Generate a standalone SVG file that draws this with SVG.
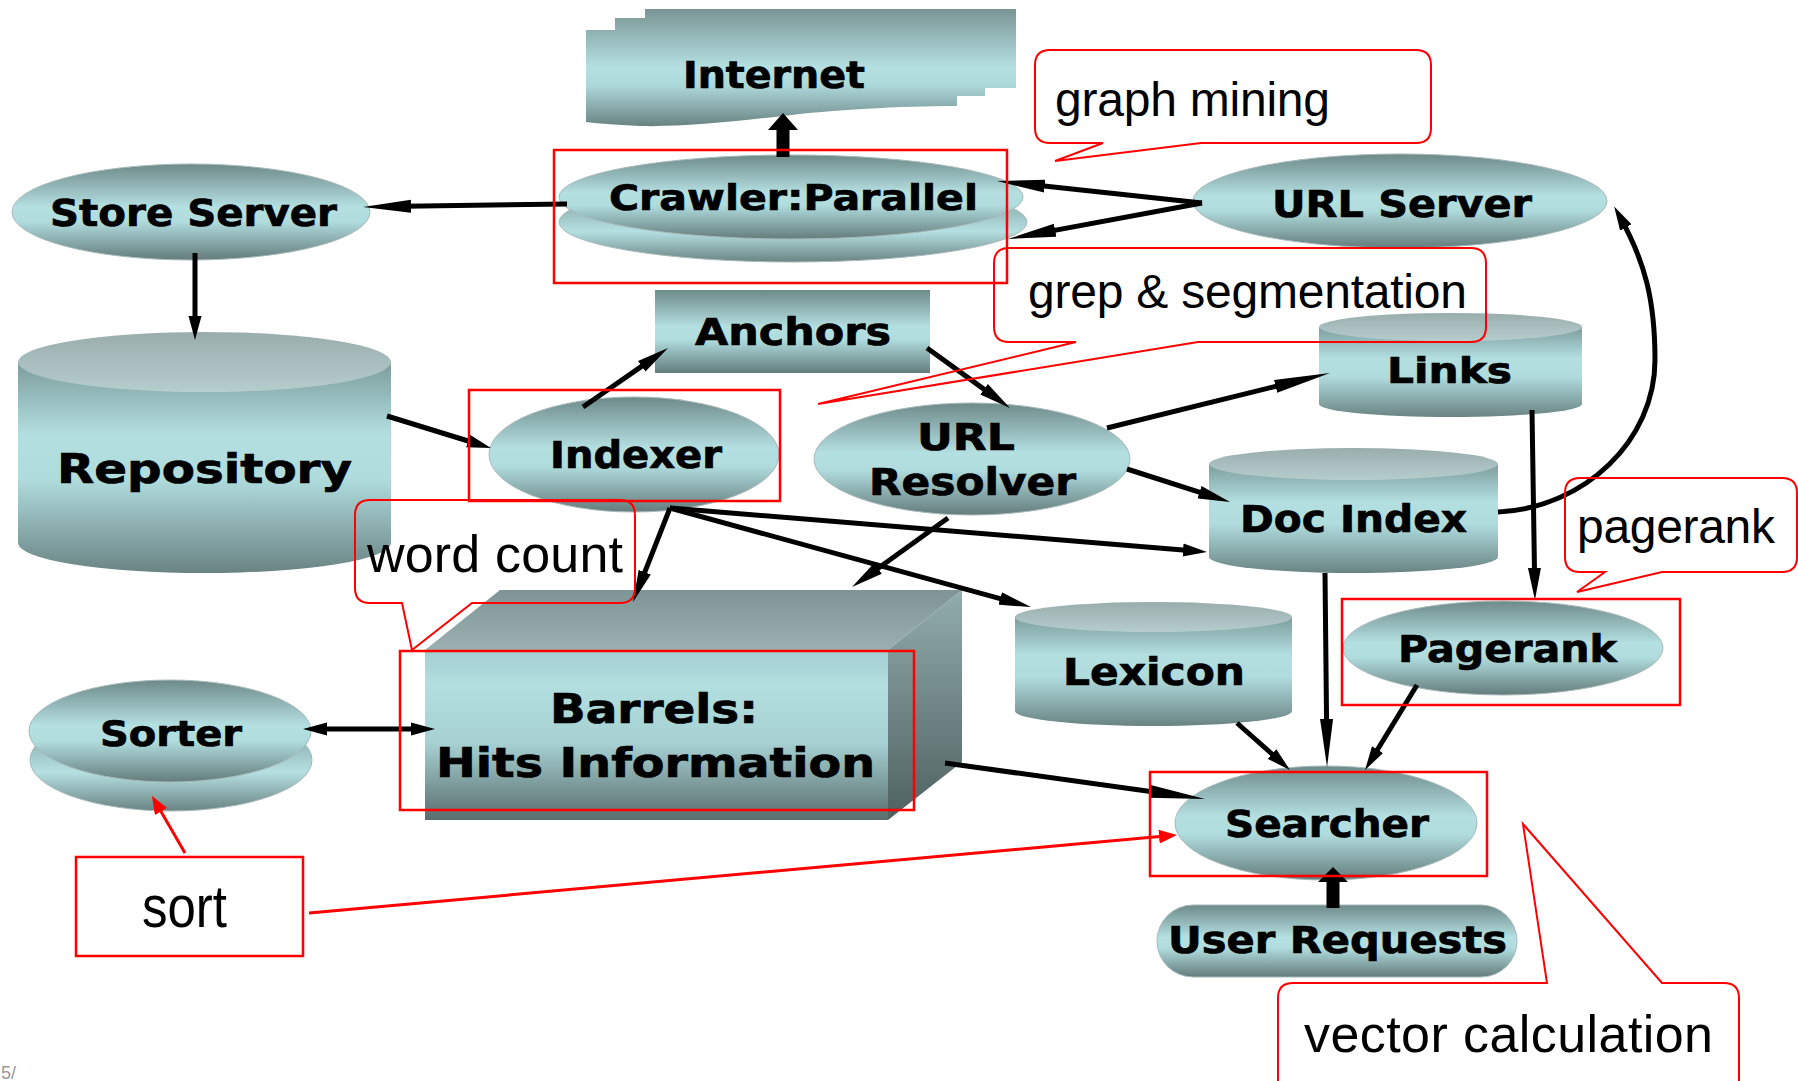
<svg xmlns="http://www.w3.org/2000/svg" width="1798" height="1081" viewBox="0 0 1798 1081">
<style>
.lbl{font-family:"DejaVu Sans","Liberation Sans",sans-serif;font-weight:bold;fill:#000;stroke:#000;stroke-width:0.7}
.ann{font-family:"Liberation Sans",Arial,sans-serif;fill:#000}
.rbox{fill:none;stroke:#ff0000;stroke-width:2.5}
.call{fill:none;stroke:#ff0000;stroke-width:2;stroke-linejoin:miter}
.edge{fill:none;stroke:#000;stroke-width:5}
.redge{fill:none;stroke:#ff0000;stroke-width:3}
.nd{stroke:#a7b9b9;stroke-width:1}
</style>
<defs>
<linearGradient id="gE" x1="0" y1="0" x2="0" y2="1">
<stop offset="0" stop-color="#6e8a8a"/>
<stop offset="0.45" stop-color="#b5e0e2"/>
<stop offset="0.6" stop-color="#b0dcde"/>
<stop offset="1" stop-color="#647c7c"/>
</linearGradient>
<linearGradient id="gI" gradientUnits="userSpaceOnUse" x1="0" y1="9" x2="0" y2="126">
<stop offset="0" stop-color="#7a9494"/>
<stop offset="0.5" stop-color="#b5e0e2"/>
<stop offset="0.65" stop-color="#aed9db"/>
<stop offset="1" stop-color="#6a8383"/>
</linearGradient>
<linearGradient id="gE2" x1="0" y1="0" x2="0" y2="1">
<stop offset="0" stop-color="#6e8a8a"/>
<stop offset="0.62" stop-color="#b5e0e2"/>
<stop offset="1" stop-color="#6a8383"/>
</linearGradient>
<linearGradient id="gC" x1="0" y1="0" x2="0" y2="1">
<stop offset="0" stop-color="#7d9c9c"/>
<stop offset="0.35" stop-color="#b3dfe1"/>
<stop offset="0.55" stop-color="#b0dcde"/>
<stop offset="1" stop-color="#6a8383"/>
</linearGradient>
<linearGradient id="gT" x1="0" y1="0" x2="0" y2="1">
<stop offset="0" stop-color="#9aadad"/>
<stop offset="1" stop-color="#b6cdcd"/>
</linearGradient>
<linearGradient id="gF" x1="0" y1="0" x2="0" y2="1">
<stop offset="0" stop-color="#a3cdd0"/>
<stop offset="0.2" stop-color="#b3dfe1"/>
<stop offset="0.55" stop-color="#a6d0d2"/>
<stop offset="1" stop-color="#5a6d6d"/>
</linearGradient>
<linearGradient id="gTop" x1="0" y1="0" x2="0" y2="1">
<stop offset="0" stop-color="#7f9494"/>
<stop offset="1" stop-color="#9bb0b0"/>
</linearGradient>
<linearGradient id="gSide" x1="0" y1="0" x2="0" y2="1">
<stop offset="0" stop-color="#92acac"/>
<stop offset="1" stop-color="#4f6161"/>
</linearGradient>
<marker id="m24" markerUnits="userSpaceOnUse" markerWidth="24" markerHeight="14" viewBox="0 0 24 14" refX="12" refY="7" orient="auto-start-reverse"><path d="M0,0.5 L24,7 L0,13.5 Z" fill="#000"/></marker>
<marker id="m32" markerUnits="userSpaceOnUse" markerWidth="32" markerHeight="14" viewBox="0 0 32 14" refX="16" refY="7" orient="auto"><path d="M0,0.5 L32,7 L0,13.5 Z" fill="#000"/></marker>
<marker id="m48" markerUnits="userSpaceOnUse" markerWidth="48" markerHeight="14" viewBox="0 0 48 14" refX="24" refY="7" orient="auto"><path d="M0,0.5 L48,7 L0,13.5 Z" fill="#000"/></marker>
<marker id="m56" markerUnits="userSpaceOnUse" markerWidth="56" markerHeight="14" viewBox="0 0 56 14" refX="28" refY="7" orient="auto"><path d="M0,0.5 L56,7 L0,13.5 Z" fill="#000"/></marker>
<marker id="mr" markerUnits="userSpaceOnUse" markerWidth="18" markerHeight="14" viewBox="0 0 18 14" refX="9" refY="7" orient="auto"><path d="M0,0 L18,7 L0,14 Z" fill="#ff0000"/></marker>
</defs>
<rect width="1798" height="1081" fill="#fff"/>

<g id="internet">
<rect x="645" y="9" width="371" height="79" fill="url(#gI)"/>
<rect x="615" y="18" width="370" height="78" fill="url(#gI)"/>
<path d="M586,30 H957 V106 C900,106 830,110 783,116 C730,122 680,127 640,126 C615,125 595,123 586,122 Z" fill="url(#gI)"/>
<text class="lbl" x="683" y="88" font-size="37" textLength="182" lengthAdjust="spacingAndGlyphs">Internet</text>
</g>

<g id="crawler">
<ellipse cx="793" cy="222" rx="234" ry="40" fill="url(#gE2)" class="nd"/>
<ellipse cx="791" cy="197" rx="232" ry="42" fill="url(#gE)" class="nd"/>
<text class="lbl" x="609" y="210" font-size="36" textLength="369" lengthAdjust="spacingAndGlyphs">Crawler:Parallel</text>
</g>

<g id="store-server">
<ellipse cx="191" cy="212" rx="179" ry="48" fill="url(#gE)" class="nd"/>
<text class="lbl" x="50" y="226" font-size="38" textLength="287" lengthAdjust="spacingAndGlyphs">Store Server</text>
</g>

<g id="url-server">
<ellipse cx="1400" cy="201" rx="207" ry="47" fill="url(#gE)" class="nd"/>
<text class="lbl" x="1272" y="217" font-size="37" textLength="260" lengthAdjust="spacingAndGlyphs">URL Server</text>
</g>

<g id="anchors">
<rect x="655" y="290" width="275" height="83" fill="url(#gE)"/>
<text class="lbl" x="695" y="345" font-size="37" textLength="196" lengthAdjust="spacingAndGlyphs">Anchors</text>
</g>

<g id="repository">
<path d="M18,362 V543 A186.5,30 0 0 0 391,543 V362 Z" fill="url(#gC)"/>
<ellipse cx="204.5" cy="362" rx="186.5" ry="30" fill="url(#gT)"/>
<text class="lbl" x="57" y="483" font-size="41" textLength="295" lengthAdjust="spacingAndGlyphs">Repository</text>
</g>

<g id="indexer">
<ellipse cx="634" cy="454.5" rx="145" ry="57.5" fill="url(#gE)" class="nd"/>
<text class="lbl" x="550" y="468" font-size="37" textLength="172" lengthAdjust="spacingAndGlyphs">Indexer</text>
</g>

<g id="url-resolver">
<ellipse cx="972" cy="459" rx="158" ry="56" fill="url(#gE)" class="nd"/>
<text class="lbl" x="917" y="450" font-size="37" textLength="98" lengthAdjust="spacingAndGlyphs">URL</text>
<text class="lbl" x="869" y="495" font-size="37" textLength="207" lengthAdjust="spacingAndGlyphs">Resolver</text>
</g>

<g id="links">
<path d="M1319,327 V404 A131.5,13 0 0 0 1582,404 V327 Z" fill="url(#gC)"/>
<ellipse cx="1450.5" cy="327" rx="131.5" ry="14" fill="url(#gT)"/>
<text class="lbl" x="1387" y="383" font-size="36" textLength="125" lengthAdjust="spacingAndGlyphs">Links</text>
</g>

<g id="doc-index">
<path d="M1209,464 V557 A144.5,16 0 0 0 1498,557 V464 Z" fill="url(#gC)"/>
<ellipse cx="1353.5" cy="464" rx="144.5" ry="16" fill="url(#gT)"/>
<text class="lbl" x="1240" y="532" font-size="37" textLength="227" lengthAdjust="spacingAndGlyphs">Doc Index</text>
</g>

<g id="lexicon">
<path d="M1015,617 V711 A138.5,15 0 0 0 1292,711 V617 Z" fill="url(#gC)"/>
<ellipse cx="1153.5" cy="617" rx="138.5" ry="15" fill="url(#gT)"/>
<text class="lbl" x="1063" y="685" font-size="37" textLength="182" lengthAdjust="spacingAndGlyphs">Lexicon</text>
</g>

<g id="pagerank">
<ellipse cx="1503" cy="648" rx="160" ry="47" fill="url(#gE)" class="nd"/>
<text class="lbl" x="1398" y="662" font-size="37" textLength="219" lengthAdjust="spacingAndGlyphs">Pagerank</text>
</g>

<g id="barrels">
<polygon points="425,650 500,590 962,590 888,650" fill="url(#gTop)"/>
<polygon points="888,650 962,590 962,762 888,820" fill="url(#gSide)"/>
<rect x="425" y="650" width="463" height="170" fill="url(#gF)"/>
<text class="lbl" x="550" y="723" font-size="41" textLength="208" lengthAdjust="spacingAndGlyphs">Barrels:</text>
<text class="lbl" x="436" y="777" font-size="41" textLength="439" lengthAdjust="spacingAndGlyphs">Hits Information</text>
</g>

<g id="sorter">
<ellipse cx="171" cy="760" rx="141" ry="51" fill="url(#gE2)" class="nd"/>
<ellipse cx="170" cy="731" rx="141" ry="51" fill="url(#gE)" class="nd"/>
<text class="lbl" x="100" y="746" font-size="36" textLength="142" lengthAdjust="spacingAndGlyphs">Sorter</text>
</g>

<g id="searcher">
<ellipse cx="1326" cy="823" rx="151" ry="57" fill="url(#gE)" class="nd"/>
<text class="lbl" x="1225" y="837" font-size="37" textLength="204" lengthAdjust="spacingAndGlyphs">Searcher</text>
</g>

<g id="user-requests">
<rect x="1157" y="905" width="360" height="72" rx="36" fill="url(#gE)" class="nd"/>
<text class="lbl" x="1168" y="953" font-size="37" textLength="339" lengthAdjust="spacingAndGlyphs">User Requests</text>
</g>

<g id="connectors">
<polygon points="783,113 798,130 789.5,130 789.5,157 776.5,157 776.5,130 768,130" fill="#000"/>
<line class="edge" x1="567" y1="204" x2="387" y2="206.6" marker-end="url(#m48)"/>
<line class="edge" x1="195" y1="253" x2="195" y2="328" marker-end="url(#m24)"/>
<line class="edge" x1="387" y1="416" x2="479.5" y2="444.5" marker-end="url(#m24)"/>
<line class="edge" x1="583" y1="407" x2="654.9" y2="357.1" marker-end="url(#m32)"/>
<line class="edge" x1="1202" y1="203" x2="1020.9" y2="183.6" marker-end="url(#m48)"/>
<line class="edge" x1="1202" y1="203" x2="1031.6" y2="234.6" marker-end="url(#m48)"/>
<line class="edge" x1="927" y1="348" x2="997" y2="398.6" marker-end="url(#m32)"/>
<line class="edge" x1="1107" y1="428" x2="1302.8" y2="379.7" marker-end="url(#m56)"/>
<line class="edge" x1="1127" y1="469" x2="1214.8" y2="497.1" marker-end="url(#m32)"/>
<line class="edge" x1="670" y1="508" x2="638.9" y2="587.1" marker-end="url(#m32)"/>
<line class="edge" x1="670" y1="508" x2="1195" y2="551" marker-end="url(#m24)"/>
<line class="edge" x1="670" y1="508" x2="1015.6" y2="602.8" marker-end="url(#m32)"/>
<line class="edge" x1="948" y1="518" x2="865" y2="577.7" marker-end="url(#m32)"/>
<path class="edge" d="M1498,512 C1585,508 1655,440 1655,360 C1655,300 1645,262 1620,217" marker-end="url(#m24)"/>
<line class="edge" x1="1532" y1="410" x2="1534.7" y2="584" marker-end="url(#m32)"/>
<line class="edge" x1="1325" y1="573" x2="1326.8" y2="743" marker-end="url(#m48)"/>
<line class="edge" x1="1237" y1="723" x2="1281" y2="762" marker-end="url(#m24)"/>
<line class="edge" x1="1417" y1="685" x2="1371.3" y2="759.8" marker-end="url(#m24)"/>
<line class="edge" x1="945" y1="763" x2="1177.3" y2="795.2" marker-end="url(#m56)"/>
<line class="edge" x1="315" y1="729" x2="423" y2="729" marker-start="url(#m24)" marker-end="url(#m24)"/>
<polygon points="1333,867 1348,882 1339.5,882 1339.5,908 1326.5,908 1326.5,882 1318,882" fill="#000"/>
</g>

<g id="annotations">
<rect class="rbox" x="554" y="150" width="453" height="133"/>
<rect class="rbox" x="469" y="390" width="311" height="111"/>
<rect class="rbox" x="400" y="651" width="514" height="159"/>
<rect class="rbox" x="1342" y="599" width="338" height="106"/>
<rect class="rbox" x="1150" y="772" width="337" height="104"/>

<g id="note-graph-mining">
<path class="call" d="M1050,50 H1416 Q1431,50 1431,65 V128 Q1431,143 1416,143 H1201 L1055,161 L1103,143 H1050 Q1035,143 1035,128 V65 Q1035,50 1050,50 Z"/>
<text class="ann" x="1055" y="116" font-size="48" textLength="275" lengthAdjust="spacing">graph mining</text>
</g>
<g id="note-grep">
<path class="call" d="M1009,248 H1471 Q1486,248 1486,263 V327 Q1486,342 1471,342 H1198 L818,404 L1076,342 H1009 Q994,342 994,327 V263 Q994,248 1009,248 Z"/>
<text class="ann" x="1028" y="308" font-size="48" textLength="439" lengthAdjust="spacing">grep &amp; segmentation</text>
</g>
<g id="note-word-count">
<path class="call" d="M370,500 H620 Q635,500 635,515 V588 Q635,603 620,603 H472 L412,650 L402,603 H370 Q355,603 355,588 V515 Q355,500 370,500 Z"/>
<text class="ann" x="367" y="572" font-size="52" textLength="256" lengthAdjust="spacing">word count</text>
</g>
<g id="note-pagerank">
<path class="call" d="M1580,478 H1782 Q1797,478 1797,493 V557 Q1797,572 1782,572 H1662 L1577,592 L1605,572 H1580 Q1565,572 1565,557 V493 Q1565,478 1580,478 Z"/>
<text class="ann" x="1577" y="543" font-size="48" textLength="198" lengthAdjust="spacing">pagerank</text>
</g>
<g id="note-vector">
<path class="call" d="M1293,983 H1547 L1523,824 L1662,983 H1724 Q1739,983 1739,998 V1100 H1278 V998 Q1278,983 1293,983 Z"/>
<text class="ann" x="1304" y="1052" font-size="52" textLength="409" lengthAdjust="spacing">vector calculation</text>
</g>
<g id="note-sort">
<rect class="rbox" x="76" y="857" width="227" height="99"/>
<text class="ann" x="142" y="927" font-size="60" textLength="85" lengthAdjust="spacingAndGlyphs">sort</text>
<line class="redge" x1="185" y1="853" x2="156.5" y2="803.8" marker-end="url(#mr)"/>
<line class="redge" x1="309" y1="913" x2="1168" y2="835.8" marker-end="url(#mr)"/>
</g>
</g>
<text x="1" y="1079" font-family="Liberation Sans, sans-serif" font-size="18" fill="#999">5/</text>
</svg>
